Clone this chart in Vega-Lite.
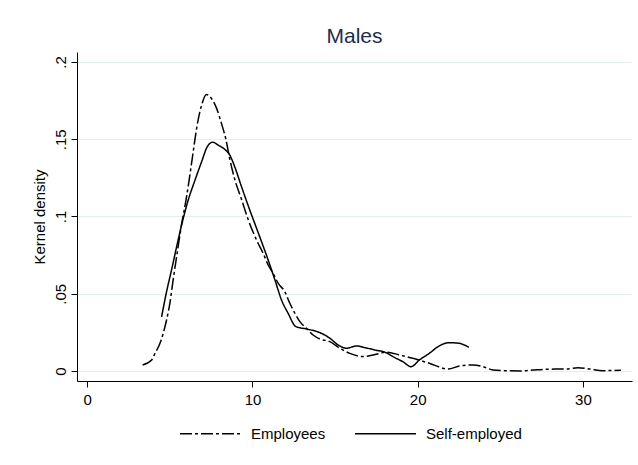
{
  "$schema": "https://vega.github.io/schema/vega-lite/v6.json",
  "autosize": "none",
  "width": 555,
  "height": 329,
  "padding": {"left": 77, "top": 52, "right": 6, "bottom": 84},
  "background": "white",
  "config": {
    "font": "Liberation Sans",
    "view": {"stroke": null},
    "axis": {"labelColor": "black", "titleColor": "black", "domainColor": "black", "tickColor": "black", "labelFont": "Liberation Sans", "titleFont": "Liberation Sans"}
  },
  "title": {"text": "Males", "fontSize": 21, "fontWeight": "normal", "color": "#1e2d53", "font": "Liberation Sans", "offset": 5},
  "data": {"values": [
    {"series": "Employees", "x": 3.35, "d": 0.0039},
    {"series": "Employees", "x": 3.9, "d": 0.0071},
    {"series": "Employees", "x": 4.1, "d": 0.0114},
    {"series": "Employees", "x": 4.36, "d": 0.0168},
    {"series": "Employees", "x": 4.6, "d": 0.0244},
    {"series": "Employees", "x": 4.8, "d": 0.033},
    {"series": "Employees", "x": 5.0, "d": 0.0438},
    {"series": "Employees", "x": 5.2, "d": 0.059},
    {"series": "Employees", "x": 5.41, "d": 0.074},
    {"series": "Employees", "x": 5.71, "d": 0.095},
    {"series": "Employees", "x": 6.0, "d": 0.112},
    {"series": "Employees", "x": 6.2, "d": 0.126},
    {"series": "Employees", "x": 6.4, "d": 0.141},
    {"series": "Employees", "x": 6.65, "d": 0.159},
    {"series": "Employees", "x": 6.92, "d": 0.172},
    {"series": "Employees", "x": 7.22, "d": 0.179},
    {"series": "Employees", "x": 7.52, "d": 0.1764},
    {"series": "Employees", "x": 7.83, "d": 0.170},
    {"series": "Employees", "x": 8.13, "d": 0.160},
    {"series": "Employees", "x": 8.39, "d": 0.150},
    {"series": "Employees", "x": 8.63, "d": 0.137},
    {"series": "Employees", "x": 8.93, "d": 0.124},
    {"series": "Employees", "x": 9.34, "d": 0.111},
    {"series": "Employees", "x": 9.74, "d": 0.098},
    {"series": "Employees", "x": 10.25, "d": 0.0847},
    {"series": "Employees", "x": 10.65, "d": 0.0761},
    {"series": "Employees", "x": 10.95, "d": 0.0686},
    {"series": "Employees", "x": 11.25, "d": 0.0632},
    {"series": "Employees", "x": 11.56, "d": 0.0567},
    {"series": "Employees", "x": 11.96, "d": 0.0513},
    {"series": "Employees", "x": 12.26, "d": 0.0438},
    {"series": "Employees", "x": 12.57, "d": 0.0373},
    {"series": "Employees", "x": 12.87, "d": 0.0319},
    {"series": "Employees", "x": 13.27, "d": 0.0276},
    {"series": "Employees", "x": 13.67, "d": 0.0233},
    {"series": "Employees", "x": 14.08, "d": 0.0207},
    {"series": "Employees", "x": 14.68, "d": 0.019},
    {"series": "Employees", "x": 15.29, "d": 0.0147},
    {"series": "Employees", "x": 15.89, "d": 0.0114},
    {"series": "Employees", "x": 16.7, "d": 0.0093},
    {"series": "Employees", "x": 17.3, "d": 0.0103},
    {"series": "Employees", "x": 18.1, "d": 0.0122},
    {"series": "Employees", "x": 18.9, "d": 0.0103},
    {"series": "Employees", "x": 19.7, "d": 0.0082},
    {"series": "Employees", "x": 20.7, "d": 0.005},
    {"series": "Employees", "x": 21.84, "d": 0.0013},
    {"series": "Employees", "x": 22.55, "d": 0.0032},
    {"series": "Employees", "x": 23.35, "d": 0.0039},
    {"series": "Employees", "x": 23.96, "d": 0.0028},
    {"series": "Employees", "x": 24.56, "d": 0.0006},
    {"series": "Employees", "x": 25.27, "d": 0.0002},
    {"series": "Employees", "x": 26.2, "d": 0.0},
    {"series": "Employees", "x": 27.0, "d": 0.0006},
    {"series": "Employees", "x": 27.8, "d": 0.0011},
    {"series": "Employees", "x": 29.0, "d": 0.0013},
    {"series": "Employees", "x": 29.7, "d": 0.0021},
    {"series": "Employees", "x": 30.4, "d": 0.0013},
    {"series": "Employees", "x": 31.2, "d": 0.0002},
    {"series": "Employees", "x": 32.3, "d": 0.0004},
    {"series": "Self-employed", "x": 4.5, "d": 0.035},
    {"series": "Self-employed", "x": 4.8, "d": 0.0513},
    {"series": "Self-employed", "x": 5.1, "d": 0.0653},
    {"series": "Self-employed", "x": 5.41, "d": 0.0804},
    {"series": "Self-employed", "x": 5.71, "d": 0.0944},
    {"series": "Self-employed", "x": 6.11, "d": 0.1106},
    {"series": "Self-employed", "x": 6.52, "d": 0.1235},
    {"series": "Self-employed", "x": 6.92, "d": 0.1354},
    {"series": "Self-employed", "x": 7.26, "d": 0.1451},
    {"series": "Self-employed", "x": 7.59, "d": 0.1481},
    {"series": "Self-employed", "x": 7.93, "d": 0.1462},
    {"series": "Self-employed", "x": 8.33, "d": 0.1434},
    {"series": "Self-employed", "x": 8.63, "d": 0.1397},
    {"series": "Self-employed", "x": 8.93, "d": 0.1321},
    {"series": "Self-employed", "x": 9.34, "d": 0.1192},
    {"series": "Self-employed", "x": 9.84, "d": 0.1041},
    {"series": "Self-employed", "x": 10.25, "d": 0.0923},
    {"series": "Self-employed", "x": 10.95, "d": 0.0718},
    {"series": "Self-employed", "x": 11.36, "d": 0.0589},
    {"series": "Self-employed", "x": 11.76, "d": 0.0459},
    {"series": "Self-employed", "x": 12.16, "d": 0.0373},
    {"series": "Self-employed", "x": 12.63, "d": 0.0287},
    {"series": "Self-employed", "x": 13.27, "d": 0.0272},
    {"series": "Self-employed", "x": 14.08, "d": 0.0248},
    {"series": "Self-employed", "x": 14.68, "d": 0.0212},
    {"series": "Self-employed", "x": 15.19, "d": 0.0168},
    {"series": "Self-employed", "x": 15.69, "d": 0.0147},
    {"series": "Self-employed", "x": 16.3, "d": 0.0162},
    {"series": "Self-employed", "x": 16.8, "d": 0.0151},
    {"series": "Self-employed", "x": 17.4, "d": 0.0136},
    {"series": "Self-employed", "x": 18.1, "d": 0.0118},
    {"series": "Self-employed", "x": 18.5, "d": 0.0093},
    {"series": "Self-employed", "x": 19.1, "d": 0.006},
    {"series": "Self-employed", "x": 19.6, "d": 0.0028},
    {"series": "Self-employed", "x": 20.1, "d": 0.0071},
    {"series": "Self-employed", "x": 20.7, "d": 0.0114},
    {"series": "Self-employed", "x": 21.3, "d": 0.0162},
    {"series": "Self-employed", "x": 21.9, "d": 0.0183},
    {"series": "Self-employed", "x": 22.5, "d": 0.0179},
    {"series": "Self-employed", "x": 23.1, "d": 0.0153}
  ]},
  "mark": {"type": "line", "interpolate": "monotone", "color": "black", "strokeWidth": 1.5},
  "encoding": {
    "x": {
      "field": "x", "type": "quantitative",
      "scale": {"domain": [-0.62, 32.97], "nice": false, "zero": false},
      "axis": {"values": [0, 10, 20, 30], "grid": false, "title": null, "labelFontSize": 15, "tickSize": 6, "labelPadding": 5, "domainWidth": 1}
    },
    "y": {
      "field": "d", "type": "quantitative",
      "scale": {"domain": [-0.0065, 0.2065], "nice": false, "zero": false},
      "axis": {
        "values": [0, 0.05, 0.1, 0.15, 0.2],
        "labelExpr": "datum.value == 0 ? '0' : replace(format(datum.value, '.2~f'), '0.', '.')",
        "labelAngle": 270, "labelFontSize": 15, "tickSize": 6, "labelPadding": 3,
        "grid": true, "gridColor": "#e4edf0", "gridWidth": 1,
        "title": "Kernel density", "titleFontSize": 15, "titleFontWeight": "normal", "titlePadding": 6
      }
    },
    "strokeDash": {
      "field": "series", "type": "nominal",
      "scale": {"domain": ["Employees", "Self-employed"], "range": [[12, 3, 3, 3], [1, 0]]},
      "legend": {
        "title": null, "orient": "none", "direction": "horizontal", "legendX": 102, "legendY": 350,
        "symbolType": "stroke", "symbolSize": 3721, "symbolStrokeWidth": 1.5, "symbolStrokeColor": "black",
        "labelFontSize": 15, "labelColor": "black", "labelOffset": 9, "columnPadding": 26
      }
    }
  }
}
